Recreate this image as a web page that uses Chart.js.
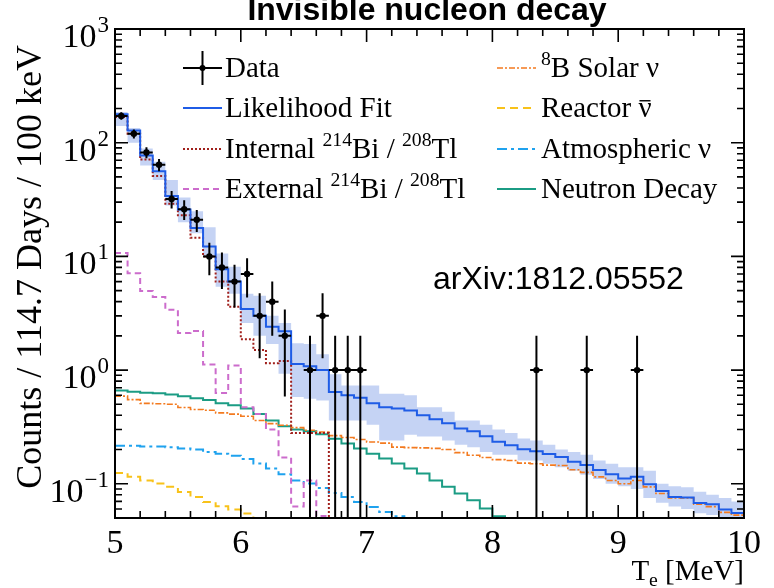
<!DOCTYPE html>
<html>
<head>
<meta charset="utf-8">
<script src="https://cdn.jsdelivr.net/npm/chart.js@4.4.1/dist/chart.umd.min.js"></script>
<style>
  html, body { margin: 0; padding: 0; background: #fff; }
  #wrap { width: 774px; height: 588px; position: relative; }
</style>
</head>
<body>
<div id="wrap"><canvas id="spectrum"></canvas></div>
<script>
// lower edges of the 100 keV bins
const binLow = [5.0, 5.1, 5.2, 5.3, 5.4, 5.5, 5.6, 5.7, 5.8, 5.9,
                6.0, 6.1, 6.2, 6.3, 6.4, 6.5, 6.6, 6.7, 6.8, 6.9,
                7.0, 7.1, 7.2, 7.3, 7.4, 7.5, 7.6, 7.7, 7.8, 7.9,
                8.0, 8.1, 8.2, 8.3, 8.4, 8.5, 8.6, 8.7, 8.8, 8.9,
                9.0, 9.1, 9.2, 9.3, 9.4, 9.5, 9.6, 9.7, 9.8, 9.9];
const binWidth = 0.1;
const xMin = 5, xMax = 10;
const yMin = 0.05, yMax = 1000;
const xTickLabels = ['5', '6', '7', '8', '9', '10'];
const yDecades = [-1, 0, 1, 2, 3];

// observed counts per bin
const dataCounts = [172, 120, 82, 64, 32, 26, 21, 10, 8, 6,
                    7, 3, 4, 2, 0, 1, 3, 1, 1, 1,
                    0, 0, 0, 0, 0, 0, 0, 0, 0, 0,
                    0, 0, 0, 1, 0, 0, 0, 1, 0, 0,
                    0, 1, 0, 0, 0, 0, 0, 0, 0, 0];

const fitTotal = [178, 128, 77, 56, 34, 25.8, 17.8, 12.2, 7.7, 6.0,
                  3.45, 3.0, 2.4, 2.2, 1.13, 1.08, 1.0, 0.64, 0.6, 0.57,
                  0.51, 0.47, 0.46, 0.44, 0.40, 0.37, 0.34, 0.306, 0.29, 0.262,
                  0.234, 0.218, 0.201, 0.193, 0.183, 0.172, 0.156, 0.146, 0.132, 0.121,
                  0.111, 0.115, 0.099, 0.0865, 0.0766, 0.0757, 0.0678, 0.066, 0.0593, 0.0553];
const fitLow = [140, 100, 63, 47, 28, 20, 16, 10, 5.4, 4.7,
                2.6, 2.0, 1.7, 0.93, 0.58, 0.56, 0.54, 0.36, 0.36, 0.36,
                0.33, 0.24, 0.24, 0.27, 0.26, 0.26, 0.24, 0.22, 0.21, 0.19,
                0.18, 0.18, 0.16, 0.16, 0.15, 0.14, 0.13, 0.12, 0.11, 0.1,
                0.095, 0.09, 0.075, 0.068, 0.063, 0.06, 0.055, 0.053, 0.05, 0.049];
const fitHigh = [186, 135, 89, 68, 47, 33, 25, 18, 10.6, 8.1,
                 4.7, 4.5, 3.0, 2.6, 1.72, 1.7, 1.38, 0.92, 0.73, 0.73,
                 0.73, 0.62, 0.62, 0.6, 0.47, 0.47, 0.43, 0.36, 0.36, 0.33,
                 0.3, 0.28, 0.25, 0.24, 0.22, 0.2, 0.19, 0.18, 0.16, 0.15,
                 0.14, 0.14, 0.13, 0.1, 0.095, 0.093, 0.085, 0.08, 0.075, 0.07];

const internalBiTl = [168, 120, 71, 51, 29, 23, 14.6, 10, 6.0, 3.6,
                      1.87, 1.5, 1.15, 1.2, 0.28, 0.28, 0.28, 0, 0, 0,
                      0, 0, 0, 0, 0, 0, 0, 0, 0, 0,
                      0, 0, 0, 0, 0, 0, 0, 0, 0, 0,
                      0, 0, 0, 0, 0, 0, 0, 0, 0, 0];
const externalBiTl = [10.7, 7.1, 4.97, 4.4, 3.4, 2.12, 2.21, 1.12, 0.63, 1.1,
                      0.47, 0.41, 0.30, 0.17, 0.063, 0.107, 0.052, 0, 0, 0,
                      0, 0, 0, 0, 0, 0, 0, 0, 0, 0,
                      0, 0, 0, 0, 0, 0, 0, 0, 0, 0,
                      0, 0, 0, 0, 0, 0, 0, 0, 0, 0];
const solarB8 = [0.59, 0.55, 0.51, 0.505, 0.50, 0.468, 0.45, 0.443, 0.42, 0.41,
                 0.393, 0.36, 0.338, 0.327, 0.312, 0.296, 0.285, 0.265, 0.255, 0.245,
                 0.233, 0.228, 0.21, 0.208, 0.207, 0.205, 0.2, 0.188, 0.178, 0.17,
                 0.163, 0.16, 0.152, 0.15, 0.146, 0.145, 0.133, 0.126, 0.115, 0.107,
                 0.1, 0.107, 0.094, 0.082, 0.075, 0.075, 0.066, 0.063, 0.056, 0.053];
const reactor = [0.1245, 0.115, 0.107, 0.1005, 0.094, 0.0847, 0.0766, 0.069, 0.0634, 0.0593,
                 0.0547, 0.048, 0, 0, 0, 0, 0, 0, 0, 0,
                 0, 0, 0, 0, 0, 0, 0, 0, 0, 0,
                 0, 0, 0, 0, 0, 0, 0, 0, 0, 0,
                 0, 0, 0, 0, 0, 0, 0, 0, 0, 0];
const atmospheric = [0.216, 0.216, 0.213, 0.213, 0.21, 0.204, 0.2, 0.19, 0.184, 0.176,
                     0.165, 0.151, 0.136, 0.121, 0.107, 0.1005, 0.092, 0.083, 0.0766, 0.069,
                     0.0625, 0.0565, 0.0518, 0.048, 0, 0, 0, 0, 0, 0,
                     0, 0, 0, 0, 0, 0, 0, 0, 0, 0,
                     0, 0, 0, 0, 0, 0, 0, 0, 0, 0];
const neutronDecay = [0.66, 0.645, 0.632, 0.625, 0.61, 0.59, 0.565, 0.545, 0.51, 0.49,
                      0.46, 0.41, 0.36, 0.32, 0.30, 0.29, 0.272, 0.249, 0.226, 0.204,
                      0.184, 0.167, 0.151, 0.136, 0.123, 0.107, 0.094, 0.082, 0.0716, 0.0605,
                      0.0518, 0, 0, 0, 0, 0, 0, 0, 0, 0,
                      0, 0, 0, 0, 0, 0, 0, 0, 0, 0];

const FLOOR = 1e-4; // empty bins fall below the axis and get clipped

// histogram outline: one point per lower edge plus the closing edge
function steps(values) {
  const pts = values.map((v, i) => ({ x: binLow[i], y: v > 0 ? v : FLOOR }));
  const last = values[values.length - 1];
  pts.push({ x: binLow[binLow.length - 1] + binWidth, y: last > 0 ? last : FLOOR });
  return pts;
}

// error bars as line segments separated by gaps
const errV = [], errH = [], dots = [];
dataCounts.forEach((n, i) => {
  if (n <= 0) return;
  const xc = binLow[i] + binWidth / 2;
  const s = Math.sqrt(n);
  errV.push({ x: xc, y: Math.max(n - s, FLOOR) }, { x: xc, y: n + s }, { x: xc, y: null });
  errH.push({ x: binLow[i], y: n }, { x: binLow[i] + binWidth, y: n }, { x: xc, y: null });
  dots.push({ x: xc, y: n });
});

const colors = {
  fit: '#1f5ce6',
  band: 'rgba(150, 175, 235, 0.55)',
  internal: '#a0201c',
  external: '#cc6ccc',
  solar: '#f37a1f',
  reactor: '#f8c21a',
  atmos: '#1fa2ee',
  neutron: '#1b9c84'
};

// value of bin i spans [binLow[i], binLow[i+1]]
function histo(label, values, color, dash, width) {
  return {
    label: label,
    data: steps(values),
    borderColor: color,
    borderWidth: width || 2,
    borderDash: dash || [],
    stepped: 'before',
    pointRadius: 0,
    fill: false
  };
}

const SERIF = '"Liberation Serif", "Times New Roman", serif';
const SANS = '"Liberation Sans", Arial, sans-serif';

// text runs with superscript / subscript pieces
function richText(ctx, parts, x, y, size) {
  let cx = x;
  parts.forEach(p => {
    const fs = p.sup || p.sub ? size * 0.68 : size;
    ctx.font = fs + 'px ' + SERIF;
    const dy = p.sup ? -size * 0.4 : p.sub ? size * 0.22 : 0;
    ctx.fillText(p.t, cx, y + dy);
    const w = ctx.measureText(p.t).width;
    if (p.bar) {
      ctx.save();
      ctx.lineWidth = 1.4;
      ctx.beginPath();
      ctx.moveTo(cx + 1, y - size * 0.56);
      ctx.lineTo(cx + w - 1, y - size * 0.56);
      ctx.stroke();
      ctx.restore();
    }
    cx += w;
  });
  return cx;
}

function legendLine(ctx, x0, x1, y, color, dash, width) {
  ctx.save();
  ctx.strokeStyle = color;
  ctx.lineWidth = width || 2;
  ctx.setLineDash(dash || []);
  ctx.beginPath();
  ctx.moveTo(x0, y);
  ctx.lineTo(x1, y);
  ctx.stroke();
  ctx.restore();
}

const decorations = {
  id: 'decorations',
  afterDraw(chart) {
    const ctx = chart.ctx;
    const a = chart.chartArea;
    const xs = chart.scales.x, ys = chart.scales.y;
    ctx.save();
    ctx.fillStyle = '#000';
    ctx.strokeStyle = '#000';

    // frame
    ctx.lineWidth = 2;
    ctx.strokeRect(a.left, a.top, a.right - a.left, a.bottom - a.top);

    // x ticks, bottom and top
    ctx.lineWidth = 1.6;
    for (let k = 0; k <= 25; k++) {
      const v = xMin + k * 0.2;
      const px = xs.getPixelForValue(v);
      const len = k % 5 === 0 ? 13 : 7;
      ctx.beginPath();
      ctx.moveTo(px, a.bottom); ctx.lineTo(px, a.bottom - len);
      ctx.moveTo(px, a.top); ctx.lineTo(px, a.top + len);
      ctx.stroke();
    }
    // y ticks, left and right
    for (let d = -2; d <= 3; d++) {
      for (let m = 1; m <= 9; m++) {
        const v = m * Math.pow(10, d);
        if (v < yMin - 1e-9 || v > yMax + 1e-9) continue;
        const py = ys.getPixelForValue(v);
        const len = m === 1 ? 13 : 7;
        ctx.beginPath();
        ctx.moveTo(a.left, py); ctx.lineTo(a.left + len, py);
        ctx.moveTo(a.right, py); ctx.lineTo(a.right - len, py);
        ctx.stroke();
      }
    }

    // x tick labels
    ctx.font = '34px ' + SERIF;
    ctx.textAlign = 'center';
    ctx.textBaseline = 'alphabetic';
    xTickLabels.forEach(t => {
      ctx.fillText(t, xs.getPixelForValue(parseFloat(t)), a.bottom + 35);
    });

    // y tick labels 10^k, right edge of the whole label fixed
    ctx.textAlign = 'left';
    yDecades.forEach(k => {
      const py = ys.getPixelForValue(Math.pow(10, k));
      const sup = k < 0 ? '\u2212' + (-k) : String(k);
      ctx.font = '23px ' + SERIF;
      const sw = ctx.measureText(sup).width;
      ctx.font = '34px ' + SERIF;
      const bw = ctx.measureText('10').width;
      const x0 = 108 - sw - bw;
      ctx.fillText('10', x0, py + 18);
      ctx.font = '23px ' + SERIF;
      ctx.fillText(sup, x0 + bw + 1, py + 3);
    });

    // axis titles
    ctx.textAlign = 'left';
    ctx.font = '29px ' + SERIF;
    const tw = ctx.measureText('T').width;
    ctx.font = (29 * 0.68) + 'px ' + SERIF;
    const ew = ctx.measureText('e').width;
    ctx.font = '29px ' + SERIF;
    const rw = ctx.measureText(' [MeV]').width;
    richText(ctx, [{ t: 'T' }, { t: 'e', sub: true }, { t: ' [MeV]' }], a.right - tw - ew - rw, 580, 29);

    ctx.save();
    ctx.translate(41, 45);
    ctx.rotate(-Math.PI / 2);
    ctx.font = '36px ' + SERIF;
    ctx.textAlign = 'right';
    ctx.fillText('Counts / 114.7 Days / 100 keV', 0, 0);
    ctx.restore();

    // title
    ctx.font = 'bold 32px ' + SANS;
    ctx.textAlign = 'center';
    ctx.fillText('Invisible nucleon decay', 427, 20);

    // arXiv reference
    ctx.font = '32px ' + SANS;
    ctx.textAlign = 'left';
    ctx.fillText('arXiv:1812.05552', 433, 289);

    // legend, left column
    const rows = [68, 108, 149, 189];
    const lx0 = 183, lx1 = 222, ltx = 225;
    ctx.lineWidth = 2;
    ctx.beginPath();
    ctx.moveTo(lx0, rows[0]); ctx.lineTo(lx1, rows[0]);
    ctx.moveTo((lx0 + lx1) / 2, rows[0] - 17); ctx.lineTo((lx0 + lx1) / 2, rows[0] + 17);
    ctx.stroke();
    ctx.beginPath();
    ctx.arc((lx0 + lx1) / 2, rows[0], 3, 0, Math.PI * 2);
    ctx.fill();
    legendLine(ctx, lx0, lx1, rows[1], colors.fit, [], 2);
    legendLine(ctx, lx0, lx1, rows[2], colors.internal, [2, 2], 2);
    legendLine(ctx, lx0, lx1, rows[3], colors.external, [6, 4], 2);

    const ls = 29;
    ctx.textAlign = 'left';
    richText(ctx, [{ t: 'Data' }], ltx, rows[0] + 9, ls);
    richText(ctx, [{ t: 'Likelihood Fit' }], ltx, rows[1] + 9, ls);
    richText(ctx, [{ t: 'Internal ' }, { t: '214', sup: true }, { t: 'Bi / ' }, { t: '208', sup: true }, { t: 'Tl' }], ltx, rows[2] + 9, ls);
    richText(ctx, [{ t: 'External ' }, { t: '214', sup: true }, { t: 'Bi / ' }, { t: '208', sup: true }, { t: 'Tl' }], ltx, rows[3] + 9, ls);

    // legend, right column
    const rx0 = 497, rx1 = 536, rtx = 541;
    legendLine(ctx, rx0, rx1, rows[0], colors.solar, [6, 2, 2, 2], 1.6);
    legendLine(ctx, rx0, rx1, rows[1], colors.reactor, [8, 5], 2);
    legendLine(ctx, rx0, rx1, rows[2], colors.atmos, [10, 4, 3, 4], 2);
    legendLine(ctx, rx0, rx1, rows[3], colors.neutron, [], 2);
    ctx.fillStyle = '#000';
    ctx.strokeStyle = '#000';
    richText(ctx, [{ t: '8', sup: true }, { t: 'B Solar \u03bd' }], rtx, rows[0] + 9, ls);
    richText(ctx, [{ t: 'Reactor ' }, { t: '\u03bd', bar: true }], rtx, rows[1] + 9, ls);
    richText(ctx, [{ t: 'Atmospheric \u03bd' }], rtx, rows[2] + 9, ls);
    richText(ctx, [{ t: 'Neutron Decay' }], rtx, rows[3] + 9, ls);

    ctx.restore();
  }
};

new Chart(document.getElementById('spectrum'), {
  type: 'line',
  data: {
    datasets: [
      { label: 'Data', data: dots, showLine: false, pointRadius: 3.2, pointBackgroundColor: '#000', pointBorderWidth: 0 },
      { label: 'err-v', data: errV, borderColor: '#000', borderWidth: 2, pointRadius: 0, spanGaps: false },
      { label: 'err-h', data: errH, borderColor: '#000', borderWidth: 2, pointRadius: 0, spanGaps: false },
      histo('Likelihood Fit', fitTotal, colors.fit, [], 2),
      histo('Internal 214Bi / 208Tl', internalBiTl, colors.internal, [2, 2], 2),
      histo('External 214Bi / 208Tl', externalBiTl, colors.external, [6, 4], 2),
      histo('8B Solar', solarB8, colors.solar, [6, 2, 2, 2], 1.6),
      histo('Reactor', reactor, colors.reactor, [8, 5], 2),
      histo('Atmospheric', atmospheric, colors.atmos, [10, 4, 3, 4], 2),
      histo('Neutron Decay', neutronDecay, colors.neutron, [], 2),
      { label: 'band-high', data: steps(fitHigh), stepped: 'before', borderWidth: 0, pointRadius: 0,
        backgroundColor: colors.band, fill: '+1' },
      { label: 'band-low', data: steps(fitLow), stepped: 'before', borderWidth: 0, pointRadius: 0, fill: false }
    ]
  },
  options: {
    responsive: true,
    maintainAspectRatio: false,
    animation: false,
    events: [],
    layout: { padding: { left: 115, right: 30, top: 29, bottom: 70 } },
    plugins: { legend: { display: false }, tooltip: { enabled: false }, title: { display: false } },
    scales: {
      x: { type: 'linear', min: xMin, max: xMax, display: false },
      y: { type: 'logarithmic', min: yMin, max: yMax, display: false }
    }
  },
  plugins: [decorations]
});
</script>
</body>
</html>
